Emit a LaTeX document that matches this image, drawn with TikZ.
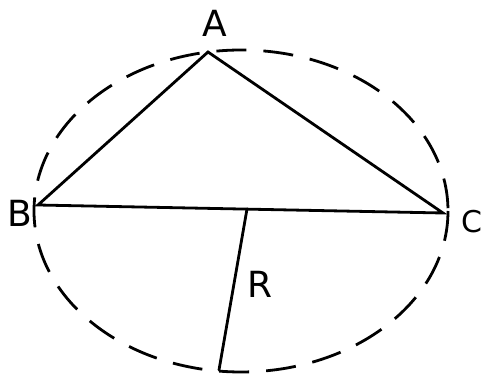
\documentclass[tikz,border=0pt]{standalone}
\usepackage{fontspec}
\setmainfont{DejaVu Sans}
\begin{document}
\begin{tikzpicture}[x=1pt,y=-1pt,
  edge/.style={line width=2.8pt,line cap=round},
  circ/.style={line width=2.8pt,dash pattern=on 30pt off 17pt},
  lbl/.style={font=\fontsize{36}{36}\selectfont, inner sep=0pt}]
\useasboundingbox (0,0) rectangle (490,379);
\coordinate (A) at (208,52);
\coordinate (B) at (38,205);
\coordinate (C) at (443,213);
\coordinate (M) at (247,209);
\coordinate (D) at (219,370);
\draw[circ] (241,211) ellipse [x radius=207, y radius=161];
\draw[edge] (A) -- (B) -- (C) -- cycle;
\draw[edge] (M) -- (D);
\node[lbl] (la) at (215,23) {A};
\node[lbl] (lb) at (20,213) {B};
\node[lbl,font=\fontsize{30}{30}\selectfont] (lc) at (472,222) {C};
\node[lbl] (lr) at (260,284) {R};
\end{tikzpicture}
\end{document}
